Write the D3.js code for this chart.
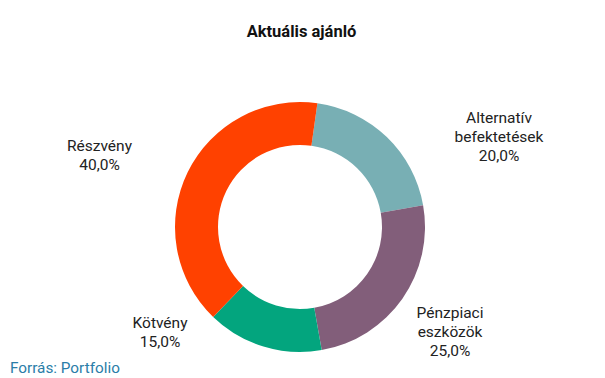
<!DOCTYPE html>
<html><head><meta charset="utf-8">
<script src="https://cdn.jsdelivr.net/npm/d3@7"></script>
<style>body{margin:0;background:#fff}svg{display:block;font-family:Roboto,"Noto Sans",sans-serif}</style>
</head><body>
<svg id="c" width="605" height="378"></svg>
<script>
const title = "Aktuális ajánló";
const source = "Forrás: Portfolio";
const categories = ["Alternatív befektetések", "Pénzpiaci eszközök", "Kötvény", "Részvény"];
const values = [20, 25, 15, 40];
const colors = ["#78AFB4", "#825E7A", "#03A57E", "#FF4100"];

const svg = d3.select("#c");
const cx = 300, cy = 227, rOuter = 125, rInner = 82;
const startDeg = 8;

svg.append("text").attr("x", 301.5).attr("y", 37).attr("text-anchor", "middle")
  .attr("font-size", 16.5).attr("font-weight", "bold").attr("fill", "#111").text(title);

const pie = d3.pie().sort(null).value(d => d)
  .startAngle(startDeg * Math.PI / 180).endAngle(startDeg * Math.PI / 180 + 2 * Math.PI);
const arcs = pie(values);
const arc = d3.arc().innerRadius(rInner).outerRadius(rOuter);
const g = svg.append("g").attr("transform", `translate(${cx},${cy})`);
g.selectAll("path").data(arcs).enter().append("path")
  .attr("d", arc).attr("fill", (d, i) => colors[i]);

const fmt = v => d3.format(".1f")(v).replace(".", ",") + "%";
const labelLines = [
  ["Alternatív", "befektetések"],
  ["Pénzpiaci", "eszközök"],
  ["Kötvény"],
  ["Részvény"]
];
const labelPos = [[499, 123], [450, 318], [160, 328], [99.5, 151]];
labelLines.forEach((lines, i) => {
  const t = svg.append("text").attr("text-anchor", "middle")
    .attr("font-size", 15.5).attr("fill", "#222");
  const all = lines.concat([fmt(values[i])]);
  all.forEach((s, j) => {
    t.append("tspan").attr("x", labelPos[i][0]).attr("y", labelPos[i][1] + j * 19).text(s);
  });
});

svg.append("text").attr("x", 10).attr("y", 372.5).attr("font-size", 15.3)
  .attr("fill", "#2A7DA8").text(source);
</script>
</body></html>
